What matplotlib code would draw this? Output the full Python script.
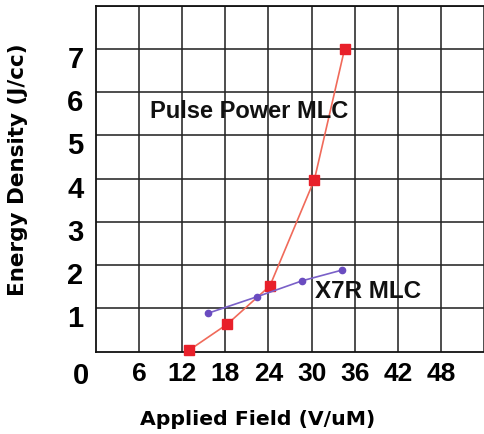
"""
Energy density vs applied field for pulse power and X7R MLCs
"""

import matplotlib
matplotlib.use("Agg")
import matplotlib.pyplot as plt
import matplotlib.transforms as mtransforms

# Pulse Power MLC (red squares)
pulse_field = [13.0, 18.3, 24.2, 30.4, 34.6]
pulse_energy = [0.04, 0.64, 1.52, 3.98, 7.0]

# X7R MLC (purple dots)
x7r_field = [15.6, 22.4, 28.7, 34.3]
x7r_energy = [0.89, 1.27, 1.64, 1.89]

x_ticks = [6, 12, 18, 24, 30, 36, 42, 48]
y_ticks = [1, 2, 3, 4, 5, 6, 7]

LABEL_FONT = "DejaVu Sans"
TICK_FONT = "Liberation Sans"

fig = plt.figure(figsize=(4.84, 4.35), dpi=100)
ax = fig.add_axes([0.1983, 0.1892, 0.8017, 0.7954])

ax.set_xlim(0, 53.6)
ax.set_ylim(0, 8)
ax.set_xticks(x_ticks + [54])
ax.set_yticks(y_ticks + [8])
ax.set_xticklabels([str(v) for v in x_ticks] + [""])
ax.set_yticklabels([str(v) for v in y_ticks] + [""])
ax.grid(True, color="#262626", linewidth=1.15)
ax.set_axisbelow(True)
ax.tick_params(length=0, pad=7)
ax.tick_params(axis="y", pad=9)

for lbl in ax.get_xticklabels():
    lbl.set_fontfamily(TICK_FONT)
    lbl.set_fontweight("bold")
    lbl.set_fontsize(19)
for lbl in ax.get_yticklabels():
    lbl.set_fontfamily(TICK_FONT)
    lbl.set_fontweight("bold")
    lbl.set_fontsize(21)
    # labels sit a little below their grid lines
    lbl.set_transform(lbl.get_transform() +
                      mtransforms.ScaledTranslation(0, -7 / 100, fig.dpi_scale_trans))

for side in ("left", "bottom", "top"):
    ax.spines[side].set_linewidth(1.3)
    ax.spines[side].set_color("#111111")
ax.spines["right"].set_visible(False)

# shared origin label at the corner
ax.annotate("0", xy=(0, 0), xytext=(-15, -23), textcoords="offset pixels",
            ha="center", va="center", fontsize=21, fontweight="bold",
            family=TICK_FONT, annotation_clip=False)

ax.plot(pulse_field, pulse_energy, color="#f06a5a", linewidth=1.2,
        marker="s", markersize=7.5, markerfacecolor="#e8202a",
        markeredgecolor="#e8202a", clip_on=False, zorder=3)
ax.plot(x7r_field, x7r_energy, color="#7a60c8", linewidth=1.2,
        marker="o", markersize=4.5, markerfacecolor="#6a4cc0",
        markeredgecolor="#6a4cc0", zorder=3)

ax.text(7.46, 5.58, "Pulse Power MLC", ha="left", va="center",
        fontsize=17, fontweight="bold", family=TICK_FONT, color="#111111")
ax.text(30.5, 1.41, "X7R MLC", ha="left", va="center",
        fontsize=17.5, fontweight="bold", family=TICK_FONT, color="#111111")

fig.text(257.5 / 484, 1 - 420 / 435, "Applied Field (V/uM)", ha="center",
         va="center", fontsize=14.7, fontweight="bold", family=LABEL_FONT)
fig.text(18 / 484, 1 - 170 / 435, "Energy Density (J/cc)", ha="center",
         va="center", rotation=90, fontsize=15.5, fontweight="bold",
         family=LABEL_FONT)

fig.savefig("out.png", dpi=100)
